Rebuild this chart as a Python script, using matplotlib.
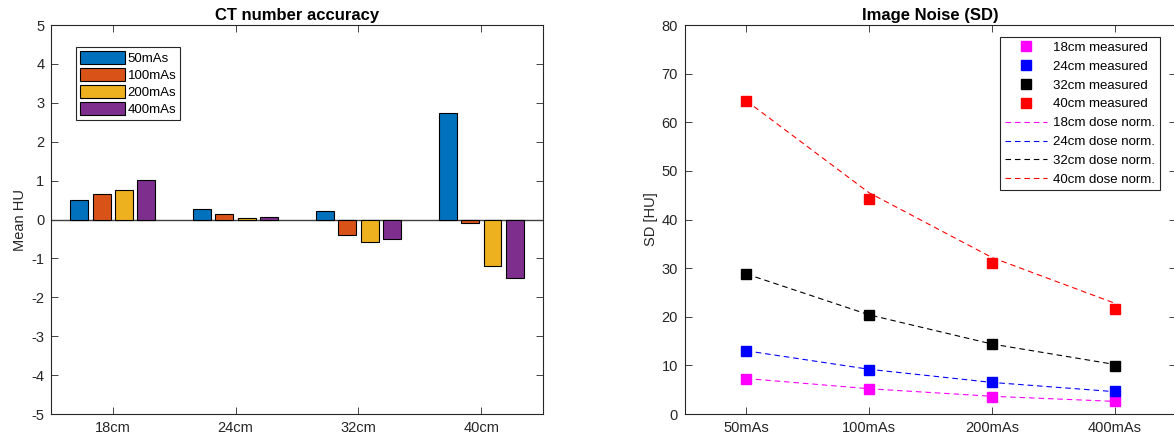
import matplotlib.pyplot as plt
import numpy as np

plt.rcParams['font.family'] = ['Liberation Sans', 'DejaVu Sans']
plt.rcParams['axes.unicode_minus'] = False

# CT number accuracy (mean HU per phantom size and tube load)
phantoms = ['18cm', '24cm', '32cm', '40cm']
loads = ['50mAs', '100mAs', '200mAs', '400mAs']
hu_50 = [0.51, 0.27, 0.21, 2.75]
hu_100 = [0.65, 0.14, -0.39, -0.09]
hu_200 = [0.75, 0.05, -0.57, -1.19]
hu_400 = [1.02, 0.06, -0.51, -1.50]

# image noise, measured SD per phantom
sd_18 = [7.3, 5.1, 3.6, 2.7]
sd_24 = [13.0, 9.1, 6.6, 4.7]
sd_32 = [28.8, 20.3, 14.3, 9.9]
sd_40 = [64.4, 44.2, 31.1, 21.5]

# dose-normalised SD curves
dn_18 = [7.3, 5.2, 3.65, 2.6]
dn_24 = [13.0, 9.2, 6.5, 4.6]
dn_32 = [28.8, 20.4, 14.4, 10.2]
dn_40 = [64.4, 45.5, 32.2, 22.8]

bar_cols = ['#0072BD', '#D95319', '#EDB120', '#7E2F8E']
ink = '#262626'

fig = plt.figure(figsize=(11.74, 4.42), dpi=100)
ax1 = fig.add_axes([0.0437, 0.0633, 0.4186, 0.880])
ax2 = fig.add_axes([0.5835, 0.0633, 0.4182, 0.880])


def style(ax):
    for s in ax.spines.values():
        s.set_color(ink)
        s.set_linewidth(0.8)
    ax.tick_params(direction='in', length=5, width=0.6, colors=ink,
                   labelsize=10.5, top=True, right=True, pad=5)


# grouped bars
x = np.arange(1, 5)
step = 0.727 / 4
for i, (vals, lab) in enumerate(zip([hu_50, hu_100, hu_200, hu_400], loads)):
    ax1.bar(x + (i - 1.5) * step, vals, width=0.8 * step, color=bar_cols[i],
            edgecolor='black', linewidth=0.8, label=lab, zorder=3)
ax1.axhline(0, color='#404040', linewidth=1.0, zorder=2)
ax1.set_xlim(0.5, 4.5)
ax1.set_ylim(-5, 5)
ax1.set_yticks(range(-5, 6))
ax1.set_xticks(x)
ax1.set_xticklabels(phantoms)
ax1.set_ylabel('Mean HU', fontsize=10.5, color=ink, labelpad=3)
ax1.set_title('CT number accuracy', fontsize=12, fontweight='bold', pad=4)
style(ax1)
leg1 = ax1.legend(loc='upper left', bbox_to_anchor=(0.0503, 0.9434),
                  borderaxespad=0, fontsize=9.5, handlelength=3.4,
                  handleheight=1.1, labelspacing=0.25, handletextpad=0.2,
                  borderpad=0.3, fancybox=False, framealpha=1)
leg1.get_frame().set_edgecolor(ink)
leg1.get_frame().set_linewidth(0.8)

# noise curves
for vals, c, lab in zip([sd_18, sd_24, sd_32, sd_40],
                        ['#FF00FF', '#0000FF', 'black', '#FF0000'], phantoms):
    ax2.plot(x, vals, 's', color=c, markersize=6.5, label=lab + ' measured',
             zorder=3)
for vals, c, lab in zip([dn_18, dn_24, dn_32, dn_40],
                        ['#FF00FF', '#0000FF', 'black', '#FF0000'], phantoms):
    ax2.plot(x, vals, '--', color=c, linewidth=0.8, dashes=(5, 3.5),
             label=lab + ' dose norm.', zorder=2)
ax2.set_xlim(0.5, 4.5)
ax2.set_ylim(0, 80)
ax2.set_yticks(range(0, 81, 10))
ax2.set_xticks(x)
ax2.set_xticklabels(loads)
ax2.set_ylabel('SD [HU]', fontsize=10.5, color=ink, labelpad=3)
ax2.set_title('Image Noise (SD)', fontsize=12, fontweight='bold', pad=4)
style(ax2)
leg2 = ax2.legend(loc='upper right', bbox_to_anchor=(0.9674, 0.969),
                  borderaxespad=0, fontsize=9.5, handlelength=3.2,
                  labelspacing=0.5, handletextpad=0.5, borderpad=0.35,
                  fancybox=False, framealpha=1)
leg2.get_frame().set_edgecolor(ink)
leg2.get_frame().set_linewidth(0.8)

fig.savefig('out.png', dpi=100)
